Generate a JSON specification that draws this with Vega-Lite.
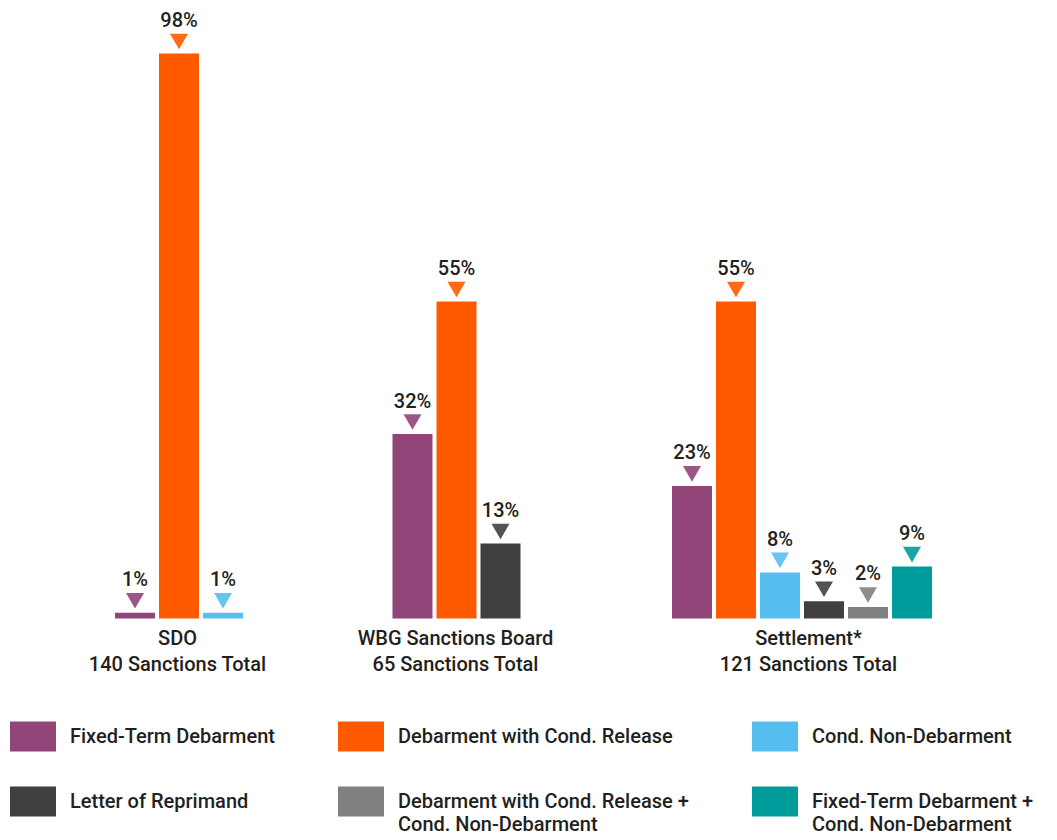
{
  "$schema": "https://vega.github.io/schema/vega-lite/v6.json",
  "padding": {"left": 10, "top": 11, "right": 5, "bottom": 5},
  "background": "white",
  "config": {
    "font": "Roboto",
    "view": {"stroke": null},
    "concat": {"spacing": 0},
    "text": {"color": "#231F20"}
  },
  "data": {
    "values": [
      {"group": "SDO", "category": "Fixed-Term Debarment", "pct": 0.01},
      {"group": "SDO", "category": "Debarment with Cond. Release", "pct": 0.98},
      {"group": "SDO", "category": "Cond. Non-Debarment", "pct": 0.01},
      {"group": "WBG", "category": "Fixed-Term Debarment", "pct": 0.32},
      {"group": "WBG", "category": "Debarment with Cond. Release", "pct": 0.55},
      {"group": "WBG", "category": "Letter of Reprimand", "pct": 0.13},
      {"group": "Settlement", "category": "Fixed-Term Debarment", "pct": 0.23},
      {"group": "Settlement", "category": "Debarment with Cond. Release", "pct": 0.55},
      {"group": "Settlement", "category": "Cond. Non-Debarment", "pct": 0.08},
      {"group": "Settlement", "category": "Letter of Reprimand", "pct": 0.03},
      {"group": "Settlement", "category": "Debarment with Cond. Release + Cond. Non-Debarment", "pct": 0.02},
      {"group": "Settlement", "category": "Fixed-Term Debarment + Cond. Non-Debarment", "pct": 0.09}
    ]
  },
  "resolve": {"scale": {"x": "independent", "y": "shared", "color": "shared", "fill": "shared"}},
  "hconcat": [
    {
      "width": 249,
      "height": 576.5,
      "transform": [{"filter": "datum.group === 'SDO'"}],
      "encoding": {
        "x": {
          "field": "category", "type": "nominal",
          "sort": ["Fixed-Term Debarment", "Debarment with Cond. Release", "Cond. Non-Debarment", "Letter of Reprimand", "Debarment with Cond. Release + Cond. Non-Debarment", "Fixed-Term Debarment + Cond. Non-Debarment"],
          "scale": {"paddingInner": 0.0909, "paddingOuter": 0, "range": [47, 175]},
          "axis": {"title": ["SDO", "140 Sanctions Total"], "titleX": 109, "labels": false, "ticks": false, "domain": false, "titleFontSize": 20, "titleFontWeight": 500, "titleColor": "#231F20", "titlePadding": 10, "titleLineHeight": 26}
        },
        "y": {"field": "pct", "type": "quantitative", "scale": {"domain": [0, 1]}, "axis": null}
      },
      "layer": [
        {
          "mark": {"type": "bar"},
          "encoding": {
            "color": {
              "field": "category", "type": "nominal",
              "scale": {
                "domain": ["Fixed-Term Debarment", "Letter of Reprimand", "Debarment with Cond. Release", "Debarment with Cond. Release + Cond. Non-Debarment", "Cond. Non-Debarment", "Fixed-Term Debarment + Cond. Non-Debarment"],
                "range": ["#914579", "#404040", "#FF5A00", "#808080", "#57BFEF", "#009B9B"]
              },
              "legend": {
                "title": null, "orient": "none", "legendX": -58, "legendY": 671.5, "columns": 3,
                "symbolType": "M-1,-0.652H1V0.652H-1Z", "symbolSize": 2116, "symbolStrokeWidth": 0, "symbolOpacity": 1,
                "labelFontSize": 20, "labelFontWeight": 500, "labelColor": "#231F20", "labelLimit": 400, "labelOffset": 14,
                "columnPadding": 63, "rowPadding": 27, "labelBaseline": "middle",
                "labelExpr": "split(replace(datum.label, ' + ', ' +|'), '|')",
                "encode": {"labels": {"update": {"lineHeight": {"value": 23}}}}
              }
            }
          }
        },
        {
          "mark": {"type": "point", "shape": "triangle-down", "filled": true, "size": 324, "yOffset": -12, "opacity": 0.9, "strokeWidth": 0},
          "encoding": {"fill": {"field": "category", "type": "nominal", "scale": {"domain": ["Fixed-Term Debarment", "Letter of Reprimand", "Debarment with Cond. Release", "Debarment with Cond. Release + Cond. Non-Debarment", "Cond. Non-Debarment", "Fixed-Term Debarment + Cond. Non-Debarment"], "range": ["#914579", "#404040", "#FF5A00", "#808080", "#57BFEF", "#009B9B"]}, "legend": null}}
        },
        {
          "mark": {"type": "text", "yOffset": -26.5, "baseline": "alphabetic", "fontSize": 20, "fontWeight": 500, "color": "#231F20"},
          "encoding": {"text": {"field": "pct", "type": "quantitative", "format": ".0%"}}
        },
        {
          "mark": {"type": "rule", "color": "#000000", "strokeWidth": 2},
          "encoding": {"y": {"datum": 0}}
        }
      ]
    },
    {
      "width": 279,
      "height": 576.5,
      "transform": [{"filter": "datum.group === 'WBG'"}],
      "encoding": {
        "x": {
          "field": "category", "type": "nominal",
          "sort": ["Fixed-Term Debarment", "Debarment with Cond. Release", "Cond. Non-Debarment", "Letter of Reprimand", "Debarment with Cond. Release + Cond. Non-Debarment", "Fixed-Term Debarment + Cond. Non-Debarment"],
          "scale": {"paddingInner": 0.0909, "paddingOuter": 0, "range": [75.5, 203.5]},
          "axis": {"title": ["WBG Sanctions Board", "65 Sanctions Total"], "titleX": 138, "labels": false, "ticks": false, "domain": false, "titleFontSize": 20, "titleFontWeight": 500, "titleColor": "#231F20", "titlePadding": 10, "titleLineHeight": 26}
        },
        "y": {"field": "pct", "type": "quantitative", "scale": {"domain": [0, 1]}, "axis": null}
      },
      "layer": [
        {
          "mark": {"type": "bar"},
          "encoding": {"color": {"field": "category", "type": "nominal"}}
        },
        {
          "mark": {"type": "point", "shape": "triangle-down", "filled": true, "size": 324, "yOffset": -12, "opacity": 0.9, "strokeWidth": 0},
          "encoding": {"fill": {"field": "category", "type": "nominal", "legend": null}}
        },
        {
          "mark": {"type": "text", "yOffset": -26.5, "baseline": "alphabetic", "fontSize": 20, "fontWeight": 500, "color": "#231F20"},
          "encoding": {"text": {"field": "pct", "type": "quantitative", "format": ".0%"}}
        },
        {
          "mark": {"type": "rule", "color": "#000000", "strokeWidth": 2},
          "encoding": {"y": {"datum": 0}}
        }
      ]
    },
    {
      "width": 374,
      "height": 576.5,
      "transform": [{"filter": "datum.group === 'Settlement'"}],
      "encoding": {
        "x": {
          "field": "category", "type": "nominal",
          "sort": ["Fixed-Term Debarment", "Debarment with Cond. Release", "Cond. Non-Debarment", "Letter of Reprimand", "Debarment with Cond. Release + Cond. Non-Debarment", "Fixed-Term Debarment + Cond. Non-Debarment"],
          "scale": {"paddingInner": 0.0909, "paddingOuter": 0, "range": [76, 336]},
          "axis": {"title": ["Settlement*", "121 Sanctions Total"], "titleX": 212, "labels": false, "ticks": false, "domain": false, "titleFontSize": 20, "titleFontWeight": 500, "titleColor": "#231F20", "titlePadding": 10, "titleLineHeight": 26}
        },
        "y": {"field": "pct", "type": "quantitative", "scale": {"domain": [0, 1]}, "axis": null}
      },
      "layer": [
        {
          "mark": {"type": "bar"},
          "encoding": {"color": {"field": "category", "type": "nominal"}}
        },
        {
          "mark": {"type": "point", "shape": "triangle-down", "filled": true, "size": 324, "yOffset": -12, "opacity": 0.9, "strokeWidth": 0},
          "encoding": {"fill": {"field": "category", "type": "nominal", "legend": null}}
        },
        {
          "mark": {"type": "text", "yOffset": -26.5, "baseline": "alphabetic", "fontSize": 20, "fontWeight": 500, "color": "#231F20"},
          "encoding": {"text": {"field": "pct", "type": "quantitative", "format": ".0%"}}
        },
        {
          "mark": {"type": "rule", "color": "#000000", "strokeWidth": 2},
          "encoding": {"y": {"datum": 0}}
        }
      ]
    }
  ]
}
